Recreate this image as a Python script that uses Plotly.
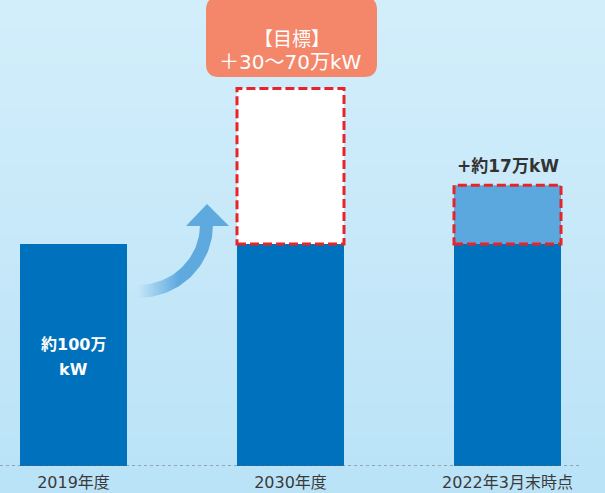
import numpy as np
import plotly.graph_objects as go

# ---- data ----
categories = ["2019年度", "2030年度", "2022年3月末時点"]
base_values = [100, 100, 100]          # 万kW (solid blue part)
added_values = [0, 70, 26.5]           # added part as drawn (target box / increase box)
target_title = "【目標】"
target_text = "＋30〜70万kW"
increase_label = "+約17万kW"
base_label_lines = ["約100万", "kW"]

W, H = 605, 493
BOT = 27
PH = H - BOT
YMAX = PH / 2.22
XMIN, XMAX = -73.5 / 217, 2 + (605 - 507.5) / 217
BW = 107 / 217

def px2data(px, py):
    return (np.asarray(px) - 73.5) / 217, (PH - np.asarray(py)) / 2.22

def px2paper(px, py):
    return px / W, 1 - py / PH

x = list(range(len(categories)))
fig = go.Figure()

# background gradient
ys = np.linspace(0, YMAX, 30)
fig.add_trace(go.Heatmap(
    x=[XMIN - 0.2, XMAX + 0.2], y=ys,
    z=[[v, v] for v in ys],
    colorscale=[[0, "#bbe3f7"], [1, "#d3eefb"]],
    showscale=False, zsmooth="best", hoverinfo="skip"))

# solid base bars
fig.add_trace(go.Bar(x=x, y=base_values, width=BW, marker_color="#0071bc",
                     marker_line_width=0, hoverinfo="skip"))
# added parts
fig.add_trace(go.Bar(x=x, y=added_values, base=base_values, width=BW,
                     marker_color=["rgba(0,0,0,0)", "#ffffff", "#5aa8dd"],
                     marker_line_width=0, hoverinfo="skip"))
fig.update_layout(barmode="overlay")

# dashed outlines
for i in (1, 2):
    fig.add_shape(type="rect", xref="x", yref="y",
                  x0=x[i] - BW / 2, x1=x[i] + BW / 2,
                  y0=base_values[i], y1=base_values[i] + added_values[i],
                  line=dict(color="#e8242b", width=3, dash="9px,4px"))

# baseline dotted
fig.add_shape(type="line", xref="paper", yref="y", x0=0, x1=581 / W, y0=0, y1=0,
              line=dict(color="#666666", width=1, dash="dot"))

# curved arrow band (quarter annulus)
t = np.linspace(0, np.pi / 2, 40)
cx, cy = 138, 225
ox, oy = cx + 75 * np.sin(t), cy + 73 * np.cos(t)
ix, iy = cx + 62 * np.sin(t), cy + 60 * np.cos(t)
bx = np.concatenate([ox, ix[::-1], ox[:1]])
by = np.concatenate([oy, iy[::-1], oy[:1]])
dx, dy = px2data(bx, by)
fig.add_trace(go.Scatter(
    x=dx, y=dy, mode="lines", line=dict(width=0), fill="toself",
    fillgradient=dict(type="horizontal",
                      colorscale=[[0, "rgba(94,169,222,0)"], [0.55, "rgba(94,169,222,1)"],
                                  [1, "rgba(94,169,222,1)"]]),
    hoverinfo="skip", showlegend=False))
hx, hy = px2data([186, 229, 207, 186], [226, 226, 204, 226])
fig.add_trace(go.Scatter(x=hx, y=hy, mode="lines", line=dict(width=0), fill="toself",
                         fillcolor="#5ea9de", hoverinfo="skip", showlegend=False))

# callout box
x0, x1, y0, y1, r = 206, 377, -3, 77, 13
def P(a, b):
    px_, py_ = px2paper(a, b)
    return f"{px_:.5f},{py_:.5f}"
path = (f"M {P(x0 + r, y0)} L {P(x1 - r, y0)} Q {P(x1, y0)} {P(x1, y0 + r)} "
        f"L {P(x1, y1 - r)} Q {P(x1, y1)} {P(x1 - r, y1)} L {P(x0 + r, y1)} "
        f"Q {P(x0, y1)} {P(x0, y1 - r)} L {P(x0, y0 + r)} Q {P(x0, y0)} {P(x0 + r, y0)} Z")
fig.add_shape(type="path", xref="paper", yref="paper", path=path,
              fillcolor="#f4876a", line=dict(width=0))
font_j = "DejaVu Sans, Noto Sans CJK JP"
fig.add_annotation(xref="paper", yref="paper", x=291.5 / W, y=1 - 22 / PH,
                   text=target_title, showarrow=False,
                   font=dict(family="Noto Sans CJK JP", size=19, color="white"))
fig.add_annotation(xref="paper", yref="paper", x=290 / W, y=1 - 48 / PH,
                   text=target_text, showarrow=False,
                   font=dict(family=font_j, size=20, color="white"))

# labels
for k, (line, py) in enumerate(zip(base_label_lines, [344, 369])):
    fig.add_annotation(x=x[0], y=(PH - py) / 2.22, text=line, showarrow=False,
                       font=dict(family=font_j, size=16, color="white", weight="bold"))
fig.add_annotation(x=x[2], y=base_values[2] + added_values[2], yanchor="bottom", yshift=7,
                   text=increase_label, showarrow=False,
                   font=dict(family=font_j, size=17, color="#333333", weight="bold"))

fig.update_xaxes(range=[XMIN, XMAX], tickvals=x, ticktext=categories, showgrid=False,
                 zeroline=False, showline=False, ticks="", ticklabelstandoff=5,
                 tickfont=dict(family=font_j, size=16, color="#3a3a3a"))
fig.update_yaxes(range=[0, YMAX], visible=False, showgrid=False, zeroline=False)
fig.update_layout(width=W, height=H, margin=dict(l=0, r=0, t=0, b=BOT, pad=0),
                  paper_bgcolor="#bbe3f7", plot_bgcolor="#c8e9f9", showlegend=False)
fig.write_html("out.html", config={"displayModeBar": False},
               post_script="document.body.style.margin='0';document.body.style.overflow='hidden';")
